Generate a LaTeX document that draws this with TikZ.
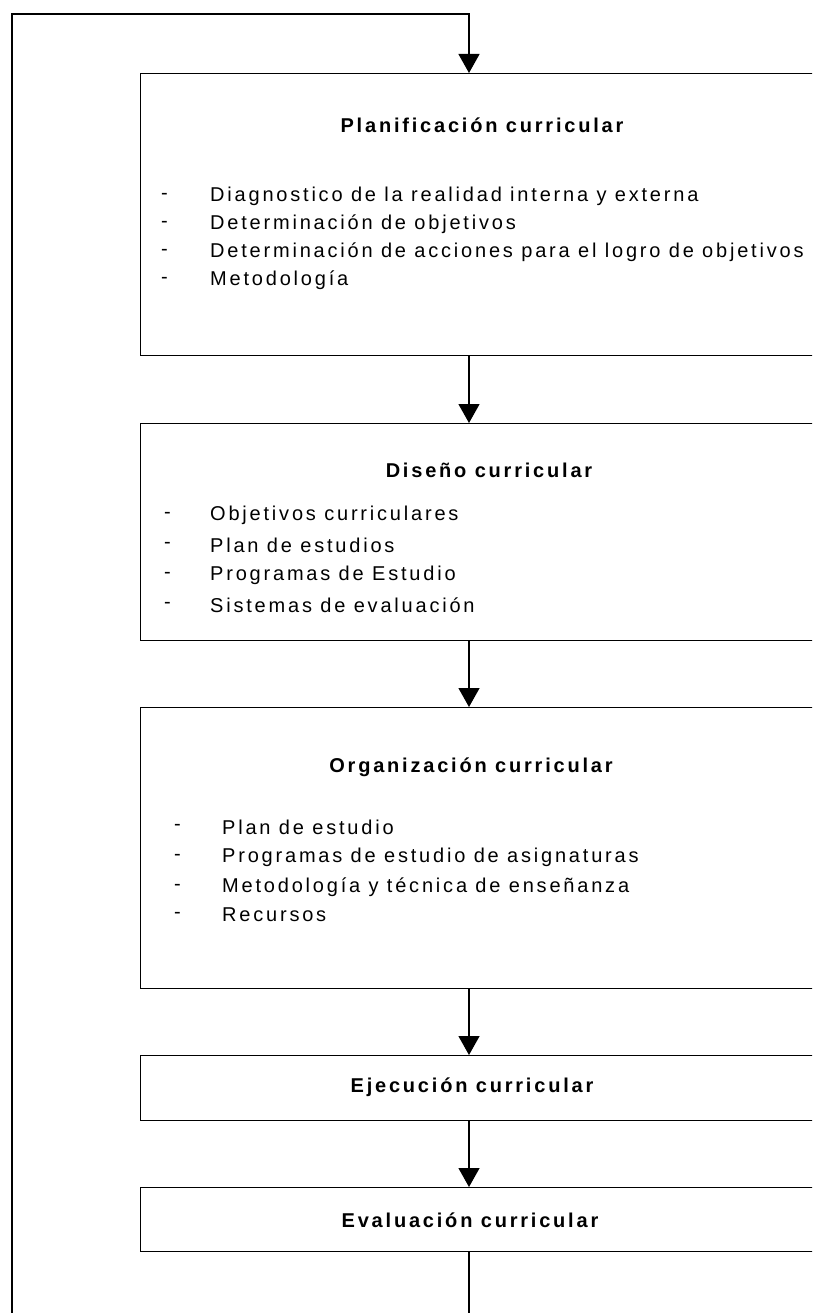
\documentclass[tikz,border=0pt]{standalone}
\usepackage{fontspec}
\setmainfont{Liberation Sans}[LetterSpace=14]
\usetikzlibrary{arrows.meta}

\begin{document}
\begin{tikzpicture}[x=1pt,y=-1pt,font=\fontsize{20}{24}\selectfont,
  caja/.style={draw,line width=1.3pt,anchor=north west,minimum width=720pt,inner sep=0pt},
  flecha/.style={line width=1.3pt,-{Triangle[width=21pt,length=19pt]}},
  titulo/.style={font=\fontsize{20}{24}\selectfont\bfseries,inner sep=0pt},
  punto/.style={anchor=west,inner sep=0pt}]
\useasboundingbox (0,0) rectangle (812,1313);
\clip (0,0) rectangle (812,1313);
\node[caja,minimum height=282pt] (plan) at (140,73) {};
\node[caja,minimum height=217pt] (diseno) at (140,423) {};
\node[caja,minimum height=281pt] (organiz) at (140,707) {};
\node[caja,minimum height=65pt] (ejec) at (140,1055) {};
\node[caja,minimum height=64pt] (eval) at (140,1187) {};
\coordinate (eje) at (469,14);
\coordinate (arribaizq) at (12,14);
\coordinate (abajoizq) at (12,1340);
\node[titulo] (tplan) at (482,125) {Planificación curricular};
\node[titulo] (tdiseno) at (489,470) {Diseño curricular};
\node[titulo] (torganiz) at (471,767) {Organización curricular};
\node[titulo] (tejec) at (472,1087) {Ejecución curricular};
\node[titulo] (teval) at (470,1220) {Evaluación curricular};
\foreach \y/\s in {196/Diagnostico de la realidad interna y externa,224/Determinación de objetivos,
  252/Determinación de acciones para el logro de objetivos,280/Metodología}{
  \node[punto] (plan-g\y) at (161,\y) {-};
  \node[punto] (plan-t\y) at (210,\y) {\s};
}
\foreach \y/\s in {515/Objetivos curriculares,545/Plan de estudios,575/Programas de Estudio,605/Sistemas de evaluación}{
  \node[punto] (dis-g\y) at (164,\y) {-};
  \node[punto] (dis-t\y) at (210,\y) {\s};
}
\foreach \y/\s in {827/Plan de estudio,857/Programas de estudio de asignaturas,
  887/Metodología y técnica de enseñanza,915/Recursos}{
  \node[punto] (org-g\y) at (174,\y) {-};
  \node[punto] (org-t\y) at (222,\y) {\s};
}
\draw[flecha] (eje |- plan.south) -- (eje |- diseno.north);
\draw[flecha] (eje |- diseno.south) -- (eje |- organiz.north);
\draw[flecha] (eje |- organiz.south) -- (eje |- ejec.north);
\draw[flecha] (eje |- ejec.south) -- (eje |- eval.north);
\draw[flecha] (eje |- eval.south) -- (eje |- abajoizq) -- (abajoizq) -- (arribaizq) -- (eje) -- (eje |- plan.north);
\end{tikzpicture}
\end{document}
